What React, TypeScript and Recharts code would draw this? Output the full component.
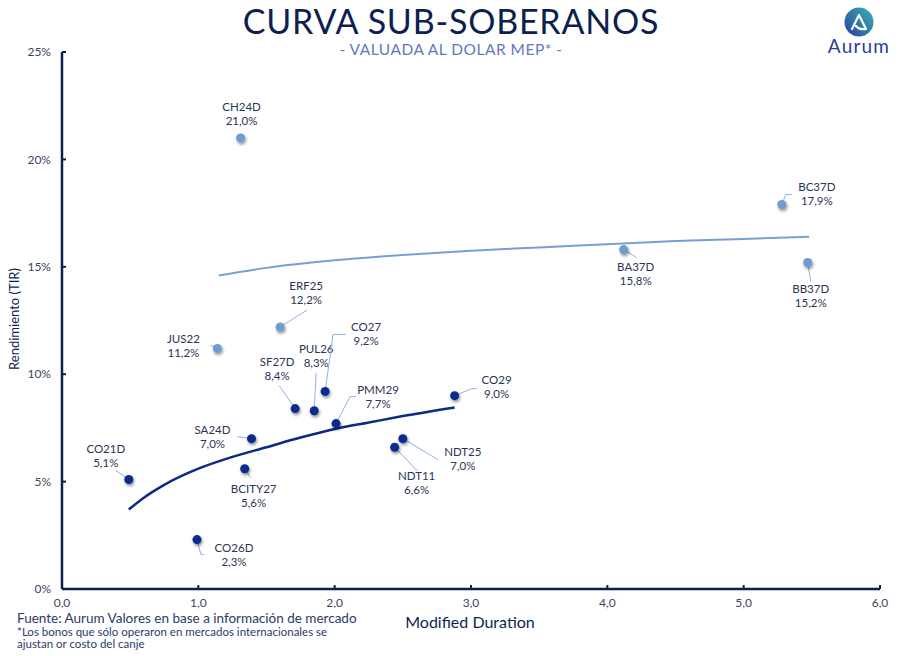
import { ComposedChart, Line, Scatter, XAxis, YAxis } from 'recharts';

// bonos en la curva principal (azul oscuro)
const darkNames = ['CO21D', 'CO26D', 'SA24D', 'BCITY27', 'SF27D', 'PUL26', 'CO27', 'PMM29', 'NDT11', 'NDT25', 'CO29'];
const darkDur = [0.49, 0.99, 1.39, 1.34, 1.71, 1.85, 1.93, 2.01, 2.44, 2.5, 2.88];
const darkYield = [5.1, 2.3, 7.0, 5.6, 8.4, 8.3, 9.2, 7.7, 6.6, 7.0, 9.0];

// bonos de mayor rendimiento (azul claro)
const lightNames = ['CH24D', 'JUS22', 'ERF25', 'BA37D', 'BC37D', 'BB37D'];
const lightDur = [1.31, 1.14, 1.6, 4.12, 5.28, 5.47];
const lightYield = [21.0, 11.2, 12.2, 15.8, 17.9, 15.2];

// tendencias
const darkTrendX = [0.49, 0.6, 0.75, 1.0, 1.25, 1.5, 1.75, 2.0, 2.25, 2.5, 2.88];
const darkTrendY = [3.7, 4.25, 4.85, 5.6, 6.15, 6.6, 7.05, 7.45, 7.75, 8.05, 8.45];
const lightTrendX = [1.15, 1.5, 2.0, 2.5, 3.0, 3.5, 4.0, 4.5, 5.0, 5.48];
const lightTrendY = [14.6, 14.95, 15.3, 15.55, 15.75, 15.9, 16.05, 16.2, 16.3, 16.4];

const xTicks = [0, 1, 2, 3, 4, 5, 6];
const yTicks = [0, 5, 10, 15, 20, 25];

const darkPoints = darkNames.map((name, i) => ({ name, x: darkDur[i], y: darkYield[i] }));
const lightPoints = lightNames.map((name, i) => ({ name, x: lightDur[i], y: lightYield[i] }));
const darkTrend = darkTrendX.map((x, i) => ({ x, y: darkTrendY[i] }));
const lightTrend = lightTrendX.map((x, i) => ({ x, y: lightTrendY[i] }));

// label placement relative to each dot (pixels)
const labelLayout: Record<string, { dx: number; dy: number; lead: number[][] }> = {
  CH24D: { dx: 1, dy: -30, lead: [] },
  BC37D: { dx: 35, dy: -17, lead: [[4, -10], [10, -10]] },
  BA37D: { dx: 12, dy: 18, lead: [[13, 8]] },
  BB37D: { dx: 3, dy: 27, lead: [[3, 19]] },
  ERF25: { dx: 26, dy: -40, lead: [[27, -17]] },
  JUS22: { dx: -34, dy: -9, lead: [[-7, -3]] },
  SF27D: { dx: -18, dy: -46, lead: [[-16, -23]] },
  PUL26: { dx: 2, dy: -61, lead: [[2, -38]] },
  CO27: { dx: 41, dy: -64, lead: [[8, -57], [21, -57]] },
  PMM29: { dx: 42, dy: -33, lead: [[14, -27], [20, -27]] },
  CO29: { dx: 42, dy: -15, lead: [[17, -7], [22, -7]] },
  SA24D: { dx: -39, dy: -8, lead: [[-14, -2]] },
  CO21D: { dx: -23, dy: -30, lead: [[-13, -9]] },
  BCITY27: { dx: 9, dy: 21, lead: [[6, 9]] },
  NDT11: { dx: 22, dy: 29, lead: [[23, 24]] },
  NDT25: { dx: 60, dy: 14, lead: [[35, 21]] },
  CO26D: { dx: 37, dy: 9, lead: [[4, 15], [7, 15]] },
};

const FONT = 'Lato, "Noto Sans", sans-serif';
const NAVY = '#0d1f4f';
const LABEL = '#2b3554';

const fmtPct = (v: number) => `${v.toFixed(1).replace('.', ',')}%`;

function BondDot(props: any) {
  const { cx, cy, payload, fill } = props;
  const lay = labelLayout[payload.name];
  const pts = [[0, 0], ...lay.lead].map(([dx, dy]) => `${cx + dx},${cy + dy}`).join(' ');
  const tx = cx + lay.dx;
  return (
    <g>
      {lay.lead.length > 0 && <polyline points={pts} fill="none" stroke="#8fb0ea" strokeWidth={1} />}
      <circle cx={cx} cy={cy} r={4.5} fill={fill} filter="url(#dotShadow)" />
      <text x={tx} y={cy + lay.dy + 3.5} textAnchor="middle" fontSize={11.5} fill={LABEL} fontFamily={FONT}>
        <tspan x={tx}>{payload.name}</tspan>
        <tspan x={tx} dy={14}>{fmtPct(payload.y)}</tspan>
      </text>
    </g>
  );
}

export default function App() {
  return (
    <div style={{ position: 'absolute', left: 0, top: 0, width: 906, height: 656, background: '#fff', overflow: 'hidden', fontFamily: FONT }}>
      <svg width={0} height={0} style={{ position: 'absolute' }}>
        <defs>
          <filter id="dotShadow" x="-100%" y="-100%" width="300%" height="300%">
            <feDropShadow dx={1} dy={2} stdDeviation={1.6} floodColor="#000" floodOpacity={0.45} />
          </filter>
          <linearGradient id="logoGrad" x1="0" y1="1" x2="1" y2="0">
            <stop offset="0%" stopColor="#2b3fa6" />
            <stop offset="100%" stopColor="#3bb3ad" />
          </linearGradient>
        </defs>
      </svg>
      <ComposedChart width={906} height={656} margin={{ top: 52, right: 26, left: 0, bottom: 0 }}>
        <XAxis
          dataKey="x"
          type="number"
          domain={[0, 6]}
          ticks={xTicks}
          tickFormatter={(v: number) => v.toFixed(1).replace('.', ',')}
          height={67}
          axisLine={{ stroke: NAVY, strokeWidth: 2.5 }}
          tickLine={{ stroke: NAVY, strokeWidth: 2 }}
          tickSize={-4}
          tickMargin={13}
          tick={{ fill: '#3a4660', fontSize: 12, fontFamily: FONT }}
        />
        <YAxis
          type="number"
          domain={[0, 25]}
          ticks={yTicks}
          tickFormatter={(v: number) => `${v}%`}
          width={62}
          axisLine={{ stroke: NAVY, strokeWidth: 2.5 }}
          tickLine={{ stroke: NAVY, strokeWidth: 2 }}
          tickSize={-4}
          tickMargin={15}
          tick={{ fill: '#3a4660', fontSize: 12, fontFamily: FONT }}
        />
        <Line data={lightTrend} dataKey="y" type="monotone" stroke="#76a0d4" strokeWidth={2} dot={false} isAnimationActive={false} />
        <Line data={darkTrend} dataKey="y" type="monotone" stroke="#0a2a84" strokeWidth={2.5} dot={false} isAnimationActive={false} />
        <Scatter data={lightPoints} dataKey="y" fill="#6f9bd1" shape={BondDot} isAnimationActive={false} />
        <Scatter data={darkPoints} dataKey="y" fill="#0b2a8f" shape={BondDot} isAnimationActive={false} />
      </ComposedChart>
      <svg width={906} height={656} style={{ position: 'absolute', left: 0, top: 0, pointerEvents: 'none' }}>
        <text textAnchor="middle" fill={NAVY} fontFamily={FONT}>
          <tspan x={451} y={34} fontSize={34} letterSpacing={0.8}>CURVA SUB-SOBERANOS</tspan>
          <tspan x={451} y={55} fontSize={15.5} fill="#6677bb" letterSpacing={0.5}>- VALUADA AL DOLAR MEP* -</tspan>
        </text>
        <circle cx={859} cy={22} r={14.5} fill="url(#logoGrad)" />
        <path d="M852,29 L859,15 L866,29 Q859,30 856,26" fill="none" stroke="#fff" strokeWidth={2.2} strokeLinejoin="round" strokeLinecap="round" />
        <text x={859} y={53} textAnchor="middle" fontSize={19} fill="#2a40a0" fontFamily={FONT} letterSpacing={1.2}>
          Aurum
        </text>
        <text transform="translate(19,319) rotate(-90)" textAnchor="middle" fontSize={13} fill={NAVY} fontFamily={FONT}>
          Rendimiento (TIR)
        </text>
        <text x={470} y={628} textAnchor="middle" fontSize={16} fill={NAVY} fontFamily={FONT}>
          Modified Duration
        </text>
        <text x={17} y={623} fontSize={13.5} fill="#2b3a6a" fontFamily={FONT}>
          Fuente: Aurum Valores en base a información de mercado
        </text>
        <text fontSize={11.5} fill="#2b3a6a" fontFamily={FONT}>
          <tspan x={17} y={636}>*Los bonos que sólo operaron en mercados internacionales se</tspan>
          <tspan x={17} y={648}>ajustan or costo del canje</tspan>
        </text>
      </svg>
    </div>
  );
}
